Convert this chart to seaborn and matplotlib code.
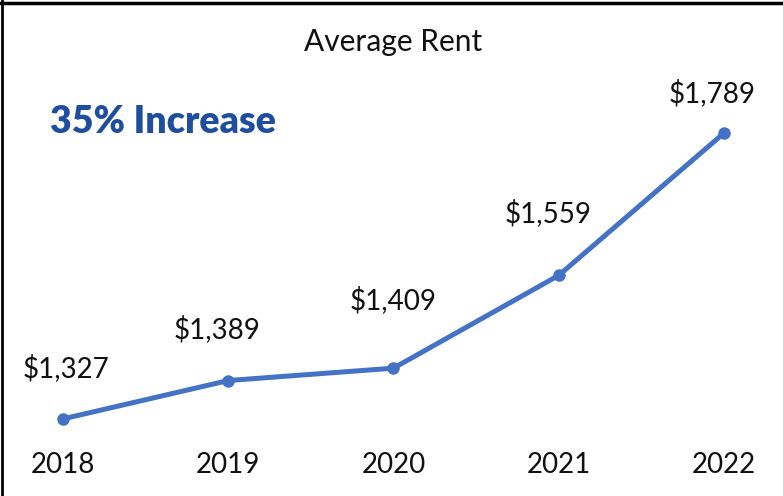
import matplotlib
matplotlib.use("Agg")
import matplotlib.pyplot as plt
import seaborn as sns
import pandas as pd
from matplotlib.lines import Line2D

years = ["2018", "2019", "2020", "2021", "2022"]
rent = [1327, 1389, 1409, 1559, 1789]
labels = ["$1,327", "$1,389", "$1,409", "$1,559", "$1,789"]
label_dx = [3, -11, 0, -11, -12]
label_dy = [51, 51, 68, 62, 40]

sns.set_style("white")
plt.rcParams["font.family"] = ["Lato", "DejaVu Sans"]

df = pd.DataFrame({"year": years, "rent": rent})
df["pos"] = range(len(years))

fig = plt.figure(figsize=(7.83, 4.96), dpi=100)
ax = fig.add_axes([0, 0.123, 1, 0.877])
line_color = "#4472C4"
sns.lineplot(data=df, x="pos", y="rent", ax=ax, color=line_color, linewidth=3.6,
             marker="o", markersize=9, markeredgewidth=0, markeredgecolor=line_color)

ax.set_xlim(-0.381, 4.357)
ax.set_ylim(1301, 2004)
ax.set_xticks(df["pos"])
ax.set_xticklabels(years, fontsize=20, color="#111111")
ax.set_yticks([])
ax.tick_params(axis="x", length=0, pad=12)
ax.set_xlabel("")
ax.set_ylabel("")
for s in ax.spines.values():
    s.set_visible(False)

for x, y, t, dx, dy in zip(df["pos"], rent, labels, label_dx, label_dy):
    ax.annotate(t, (x, y), xytext=(dx, dy), textcoords="offset pixels",
                ha="center", va="center", fontsize=20, color="#111111")

fig.text(393 / 783, 1 - 42 / 496, "Average Rent", ha="center", va="center",
         fontsize=21.5, color="#111111")
fig.text(50 / 783, 1 - 122 / 496, "35% Increase", ha="left", va="center",
         fontsize=27, fontweight="heavy", color="#1F4E9E")

fig.add_artist(Line2D([0, 1], [1 - 2.5 / 496, 1 - 2.5 / 496], transform=fig.transFigure,
                      color="black", linewidth=2.5))
fig.add_artist(Line2D([2 / 783, 2 / 783], [0, 1], transform=fig.transFigure,
                      color="black", linewidth=2))

fig.savefig("out.png", dpi=100)
